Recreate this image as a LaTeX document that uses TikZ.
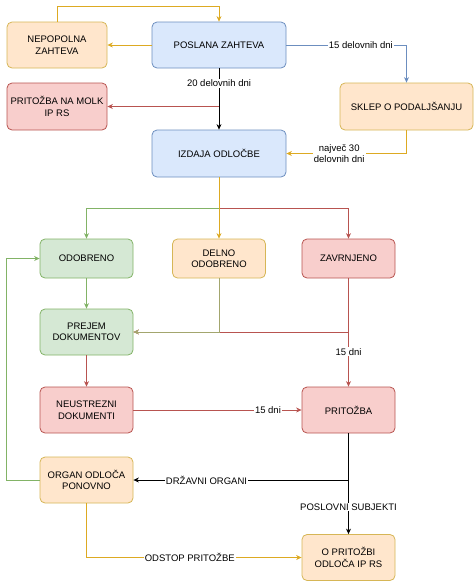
\documentclass[tikz,border=0pt]{standalone}
\usepackage{fontspec}
\setmainfont{Liberation Sans}
\usetikzlibrary{arrows.meta}
\definecolor{bF}{HTML}{DAE8FC}\definecolor{bD}{HTML}{6C8EBF}
\definecolor{yF}{HTML}{FFE6CC}\definecolor{yD}{HTML}{D6B656}
\definecolor{gF}{HTML}{D5E8D4}\definecolor{gD}{HTML}{82B366}
\definecolor{rF}{HTML}{F8CECC}\definecolor{rD}{HTML}{B85450}
\definecolor{yA}{HTML}{DDAA22}
\definecolor{oA}{HTML}{A3A66E}
\begin{document}
\begin{tikzpicture}[x=1pt,y=-1pt,
  font=\fontsize{9.5}{11.5}\selectfont,
  box/.style={rounded corners=5pt, align=center, minimum width=93pt, minimum height=46pt, inner sep=1pt, line width=0.8pt},
  blueB/.style={box, fill=bF, draw=bD},
  yelB/.style={box, fill=yF, draw=yD},
  greenB/.style={box, fill=gF, draw=gD},
  redB/.style={box, fill=rF, draw=rD},
  con/.style={line width=0.8pt, -{Stealth[length=5.5pt,width=5pt]}},
  yelA/.style={con, draw=yA},
  blueA/.style={con, draw=bD},
  greenA/.style={con, draw=gD},
  redA/.style={con, draw=rD},
  blkA/.style={con, draw=black},
  oliveA/.style={con, draw=oA},
  lbl/.style={fill=white, inner sep=1pt, align=center, text=black}]
\useasboundingbox (0,0) rectangle (474,582);

\node[blueB, minimum width=134pt] (poslana) at (219,45) {POSLANA ZAHTEVA};
\node[yelB, minimum width=100pt] (nepop) at (57,45) {NEPOPOLNA\\ZAHTEVA};
\node[redB, minimum width=100pt, minimum height=47pt] (molk) at (57,106.5) {PRITOŽBA NA MOLK\\IP RS};
\node[yelB, minimum width=133pt, minimum height=47pt] (sklep) at (406.5,106.5) {SKLEP O PODALJŠANJU};
\node[blueB, minimum width=134pt, minimum height=47pt] (izdaja) at (219,153.5) {IZDAJA ODLOČBE};
\node[greenB, minimum height=39pt] (odob) at (86.5,258.5) {ODOBRENO};
\node[yelB, minimum height=39pt] (delno) at (219,258.5) {DELNO\\ODOBRENO};
\node[redB, minimum height=39pt] (zavr) at (348.5,258.5) {ZAVRNJENO};
\node[greenB] (prejem) at (86.5,332) {PREJEM\\DOKUMENTOV};
\node[redB] (neus) at (86.5,410) {NEUSTREZNI\\DOKUMENTI};
\node[redB] (prit) at (348.5,410) {PRITOŽBA};
\node[yelB] (organ) at (86.5,480) {ORGAN ODLOČA\\PONOVNO};
\node[yelB] (ipr) at (348.5,557.5) {O PRITOŽBI\\ODLOČA IP RS};

\coordinate (top) at (57,6);
\coordinate (br) at (219,208);
\coordinate (lft) at (6,480);

\draw[yelA] (nepop.north) -- (top) -| (poslana.north);
\draw[yelA] (poslana.west) -- (nepop.east);
\draw[blueA] (poslana.east) -| node[lbl, pos=0.31] {15 delovnih dni} (sklep.north);
\draw[blkA] (poslana.south) -- node[lbl, pos=0.24] {20 delovnih dni} (izdaja.north);
\draw[redA] (poslana.south |- molk.east) -- (molk.east);
\draw[yelA] (sklep.south) |- node[lbl, pos=0.78] {največ 30\\delovnih dni} (izdaja.east);

\draw[greenA] (br) -| (odob.north);
\draw[redA] (br) -| (zavr.north);
\draw[yelA] (izdaja.south) -- (delno.north);

\draw[greenA] (odob) -- (prejem);
\draw[redA] (zavr.south) |- (prejem.east);
\draw[oliveA] (delno.south) |- (prejem.east);
\draw[redA] (zavr.south) -- node[lbl, pos=0.68] {15 dni} (prit.north);
\draw[redA] (prejem) -- (neus);
\draw[redA] (neus.east) -- node[lbl, pos=0.8] {15 dni} (prit.west);

\draw[blkA] (prit.south) -- node[lbl, pos=0.73] {POSLOVNI SUBJEKTI} (ipr.north);
\draw[blkA] (prit.south |- organ.east) -- node[lbl, pos=0.66] {DRŽAVNI ORGANI} (organ.east);
\draw[greenA] (organ.west) -- (lft) |- (odob.west);
\draw[yelA] (organ.south) |- node[lbl, pos=0.74] {ODSTOP PRITOŽBE} (ipr.west);
\end{tikzpicture}
\end{document}
